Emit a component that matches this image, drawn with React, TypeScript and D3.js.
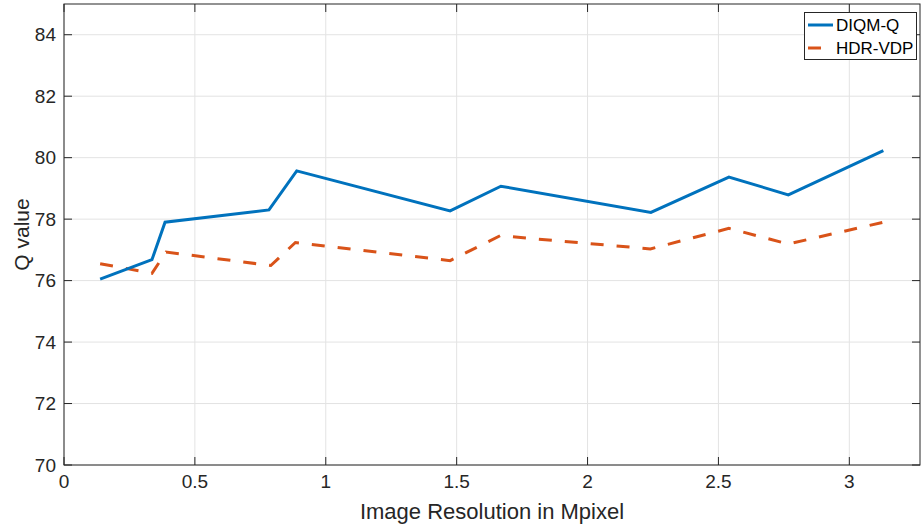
import React, { useRef, useEffect } from "react";
import * as d3 from "d3";

// resolution in Mpixel
const diqmX = [0.138, 0.336, 0.386, 0.783, 0.889, 1.475, 1.669, 2.242, 2.54, 2.767, 3.13];
const diqmQ = [76.05, 76.68, 77.9, 78.3, 79.57, 78.27, 79.07, 78.22, 79.37, 78.79, 80.23];

const hdrX = [0.138, 0.336, 0.39, 0.79, 0.884, 1.475, 1.666, 2.24, 2.54, 2.767, 3.13];
const hdrQ = [76.55, 76.24, 76.93, 76.49, 77.24, 76.65, 77.46, 77.03, 77.7, 77.19, 77.9];

const xTicks = [0, 0.5, 1, 1.5, 2, 2.5, 3];
const yTicks = [70, 72, 74, 76, 78, 80, 82, 84];
const seriesNames = ["DIQM-Q", "HDR-VDP"];

const W = 921;
const H = 529;
const margin = { left: 64, right: 1, top: 4, bottom: 64 };

function App() {
  const svgRef = useRef<SVGSVGElement>(null);

  useEffect(() => {
    const svg = d3.select(svgRef.current);
    svg.selectAll("*").remove();
    const font = "'Liberation Sans', Arial, sans-serif";

    const x = d3.scaleLinear().domain([0, 3.27]).range([margin.left, W - margin.right]);
    const y = d3.scaleLinear().domain([70, 85]).range([H - margin.bottom, margin.top]);
    const [x0, x1] = x.range();
    const [y0, y1] = y.range();

    // grid
    const grid = svg.append("g");
    grid.selectAll(".gx").data(xTicks).join("line")
      .attr("x1", (d) => x(d)).attr("x2", (d) => x(d))
      .attr("y1", y0).attr("y2", y1)
      .attr("stroke", "#e3e3e3").attr("stroke-width", 1);
    grid.selectAll(".gy").data(yTicks).join("line")
      .attr("x1", x0).attr("x2", x1)
      .attr("y1", (d) => y(d)).attr("y2", (d) => y(d))
      .attr("stroke", "#e3e3e3").attr("stroke-width", 1);

    // lines
    const lineGen = d3.line<[number, number]>().x((d) => x(d[0])).y((d) => y(d[1]));
    const diqm = diqmX.map((v, i) => [v, diqmQ[i]] as [number, number]);
    const hdr = hdrX.map((v, i) => [v, hdrQ[i]] as [number, number]);

    svg.append("path").datum(hdr).attr("d", lineGen)
      .attr("fill", "none").attr("stroke", "#D95319").attr("stroke-width", 3)
      .attr("stroke-dasharray", "13 13");
    svg.append("path").datum(diqm).attr("d", lineGen)
      .attr("fill", "none").attr("stroke", "#0072BD").attr("stroke-width", 3)
      .attr("stroke-linejoin", "miter");

    // axes box + inward ticks
    const axis = svg.append("g").attr("stroke", "#262626").attr("stroke-width", 1);
    axis.append("rect")
      .attr("x", x0).attr("y", y1)
      .attr("width", x1 - x0).attr("height", y0 - y1)
      .attr("fill", "none");
    const tl = 8;
    xTicks.forEach((t) => {
      axis.append("line").attr("x1", x(t)).attr("x2", x(t)).attr("y1", y0).attr("y2", y0 - tl);
      axis.append("line").attr("x1", x(t)).attr("x2", x(t)).attr("y1", y1).attr("y2", y1 + tl);
    });
    yTicks.forEach((t) => {
      axis.append("line").attr("x1", x0).attr("x2", x0 + tl).attr("y1", y(t)).attr("y2", y(t));
      axis.append("line").attr("x1", x1).attr("x2", x1 - tl).attr("y1", y(t)).attr("y2", y(t));
    });

    // tick labels
    svg.append("g").selectAll("text").data(xTicks).join("text")
      .attr("x", (d) => x(d)).attr("y", y0 + 23)
      .attr("text-anchor", "middle")
      .attr("font-family", font).attr("font-size", 19).attr("fill", "#262626")
      .text((d) => d3.format("~g")(d));
    svg.append("g").selectAll("text").data(yTicks).join("text")
      .attr("x", x0 - 8).attr("y", (d) => y(d)).attr("dy", "0.35em")
      .attr("text-anchor", "end")
      .attr("font-family", font).attr("font-size", 19).attr("fill", "#262626")
      .text((d) => d);

    // axis titles
    svg.append("text")
      .attr("x", (x0 + x1) / 2).attr("y", y0 + 54)
      .attr("text-anchor", "middle")
      .attr("font-family", font).attr("font-size", 22).attr("fill", "#262626")
      .text("Image Resolution in Mpixel");
    svg.append("text")
      .attr("transform", `translate(29, ${(y0 + y1) / 2}) rotate(-90)`)
      .attr("text-anchor", "middle")
      .attr("font-family", font).attr("font-size", 21).attr("fill", "#262626")
      .text("Q value");

    // legend
    const lg = svg.append("g");
    lg.append("rect")
      .attr("x", 804.5).attr("y", 12.5).attr("width", 112).attr("height", 47)
      .attr("fill", "white").attr("stroke", "#262626").attr("stroke-width", 1);
    const colors = ["#0072BD", "#D95319"];
    seriesNames.forEach((name, i) => {
      const ly = 25 + i * 23;
      lg.append("line")
        .attr("x1", 808).attr("x2", 833).attr("y1", ly).attr("y2", ly)
        .attr("stroke", colors[i]).attr("stroke-width", 3)
        .attr("stroke-dasharray", i === 1 ? "13 13" : null);
      lg.append("text")
        .attr("x", 836).attr("y", ly).attr("dy", "0.35em")
        .attr("font-family", font).attr("font-size", 17).attr("fill", "#000")
        .text(name);
    });
  }, []);

  return (
    <svg
      ref={svgRef}
      width={W}
      height={H}
      style={{ position: "absolute", left: 0, top: 0, background: "white" }}
    />
  );
}

export default App;
